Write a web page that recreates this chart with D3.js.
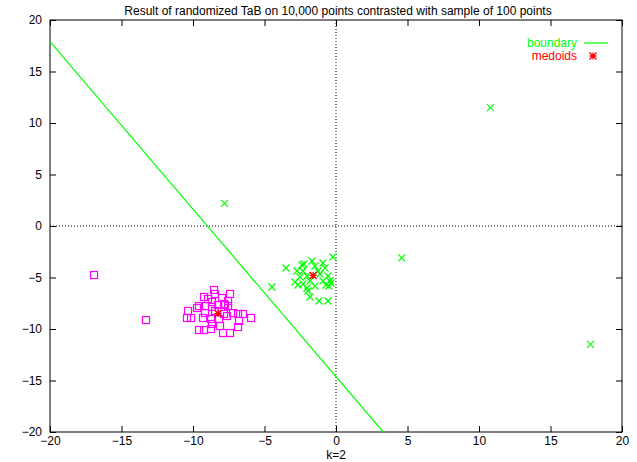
<!DOCTYPE html>
<html>
<head>
<meta charset="utf-8">
<script src="https://cdn.jsdelivr.net/npm/d3@7"></script>
<style>
  body { margin: 0; background: #fff; }
  svg text { font-family: "Liberation Sans", Arial, sans-serif; font-size: 12px; }
</style>
</head>
<body>
<svg></svg>
<script>
var xTicks = [-20, -15, -10, -5, 0, 5, 10, 15, 20];
var yTicks = [-20, -15, -10, -5, 0, 5, 10, 15, 20];

// cluster 1 (green crosses)
var clusterA = [
  [-3.50,-4.08],[-4.48,-5.92],[-2.73,-4.37],[-2.52,-4.95],[-2.38,-3.79],[-2.31,-5.63],
  [-2.87,-5.44],[-2.66,-5.73],[-2.24,-3.69],[-1.47,-3.88],[-0.91,-3.59],[-0.77,-4.08],
  [-1.26,-4.37],[-2.31,-4.37],[-2.03,-4.85],[-0.56,-4.85],[-0.42,-5.34],[-0.91,-5.34],
  [-1.82,-5.34],[-1.47,-5.83],[-2.03,-6.02],[-0.49,-5.83],[-1.12,-4.66],[-1.82,-6.89],
  [-1.19,-7.28],[-0.56,-7.28],[-0.21,-3.01],[-1.68,-3.40],[-1.96,-6.31],[-0.70,-5.73],
  [-0.35,-5.53],[-7.8,2.2],[10.8,11.5],[17.8,-11.5],[4.6,-3.1]
];

// cluster 2 (magenta squares)
var clusterB = [
  [-8.53,-6.21],[-8.46,-6.60],[-9.23,-6.89],[-8.95,-7.09],[-8.67,-7.38],[-7.97,-6.99],
  [-9.58,-7.77],[-9.16,-7.77],[-8.67,-7.86],[-8.25,-7.67],[-7.83,-7.57],[-10.35,-8.25],
  [-9.72,-7.96],[-9.16,-8.45],[-8.46,-8.25],[-7.83,-8.54],[-10.42,-8.93],[-10.14,-8.93],
  [-9.30,-8.93],[-8.74,-9.03],[-8.18,-9.03],[-8.67,-9.51],[-8.11,-9.71],[-9.58,-10.10],
  [-9.23,-10.10],[-8.74,-10.00],[-7.90,-10.39],[-7.41,-6.60],[-7.55,-7.28],[-7.76,-7.67],
  [-7.55,-7.77],[-7.62,-8.74],[-7.20,-8.45],[-6.85,-8.54],[-6.50,-8.54],[-5.94,-8.93],
  [-6.78,-9.22],[-6.85,-9.81],[-7.41,-10.39],[-16.92,-4.76],[-13.29,-9.13]
];

var medoids = [[-1.6,-4.8],[-8.25,-8.5]];
var boundary = [[-20,17.9],[3.3,-20]];

var screen = {width:637, height:462};
var margin = {left:50, right:15, top:20, bottom:30};

var svg = d3.select("svg")
  .attr("width", screen.width)
  .attr("height", screen.height);

var x = d3.scaleLinear().domain([-20,20]).range([margin.left, screen.width - margin.right]);
var y = d3.scaleLinear().domain([-20,20]).range([screen.height - margin.bottom, margin.top]);

svg.append("defs").append("clipPath").attr("id","clip")
  .append("rect")
  .attr("x", x(-20)).attr("y", y(20))
  .attr("width", x(20)-x(-20)).attr("height", y(-20)-y(20));

// zero axes
svg.append("line")
  .attr("x1", x(0)).attr("x2", x(0)).attr("y1", y(-20)).attr("y2", y(20))
  .attr("stroke","black").attr("stroke-width",1).attr("stroke-dasharray","1,2");
svg.append("line")
  .attr("x1", x(-20)).attr("x2", x(20)).attr("y1", y(0)).attr("y2", y(0))
  .attr("stroke","black").attr("stroke-width",1).attr("stroke-dasharray","1,2");

// axes, ticks inward on all sides
var tl = 6;
svg.append("g").attr("transform","translate(0,"+y(-20)+")")
  .call(d3.axisBottom(x).tickValues(xTicks).tickSize(-tl).tickPadding(4))
  .call(function(g){ g.select(".domain").remove(); });
svg.append("g").attr("transform","translate(0,"+y(20)+")")
  .call(d3.axisTop(x).tickValues(xTicks).tickSize(-tl).tickFormat(""))
  .call(function(g){ g.select(".domain").remove(); });
svg.append("g").attr("transform","translate("+x(-20)+",0)")
  .call(d3.axisLeft(y).tickValues(yTicks).tickSize(-tl).tickPadding(8))
  .call(function(g){ g.select(".domain").remove(); });
svg.append("g").attr("transform","translate("+x(20)+",0)")
  .call(d3.axisRight(y).tickValues(yTicks).tickSize(-tl).tickFormat(""))
  .call(function(g){ g.select(".domain").remove(); });
svg.selectAll(".tick text").attr("font-size", 12.5).attr("font-family", "Liberation Sans, Arial, sans-serif").attr("fill","black");

svg.append("rect")
  .attr("x", x(-20)).attr("y", y(20))
  .attr("width", x(20)-x(-20)).attr("height", y(-20)-y(20))
  .attr("fill","none").attr("stroke","black").attr("stroke-width",1);

var plot = svg.append("g").attr("clip-path","url(#clip)");

// boundary line
plot.append("path")
  .datum(boundary)
  .attr("d", d3.line().x(function(d){return x(d[0]);}).y(function(d){return y(d[1]);}))
  .attr("stroke","#00ff00").attr("stroke-width",1.2).attr("fill","none");

// green crosses
var s = 3.5;
plot.append("g").selectAll("path")
  .data(clusterA).enter().append("path")
  .attr("d", function(d){
    var cx = x(d[0]), cy = y(d[1]);
    return "M"+(cx-s)+","+(cy-s)+"L"+(cx+s)+","+(cy+s)+"M"+(cx-s)+","+(cy+s)+"L"+(cx+s)+","+(cy-s);
  })
  .attr("stroke","#00ff00").attr("stroke-width",1.2).attr("fill","none");

// magenta squares
plot.append("g").selectAll("rect")
  .data(clusterB).enter().append("rect")
  .attr("x", function(d){return x(d[0])-s;})
  .attr("y", function(d){return y(d[1])-s;})
  .attr("width", 2*s).attr("height", 2*s)
  .attr("stroke","#ff00ff").attr("stroke-width",1.2).attr("fill","none");

var star = function(cx, cy){
  return "M"+(cx-s)+","+(cy-s)+"L"+(cx+s)+","+(cy+s)+"M"+(cx-s)+","+(cy+s)+"L"+(cx+s)+","+(cy-s)
    +"M"+(cx-s)+","+cy+"L"+(cx+s)+","+cy+"M"+cx+","+(cy-s)+"L"+cx+","+(cy+s);
};

// medoids
plot.append("g").selectAll("path")
  .data(medoids).enter().append("path")
  .attr("d", function(d){ return star(x(d[0]), y(d[1])); })
  .attr("stroke","#ff0000").attr("stroke-width",1.3).attr("fill","none");

// title and label
svg.append("text")
  .attr("x", 338).attr("y", 15)
  .attr("text-anchor","middle")
  .attr("font-size", 12.8)
  .text("Result of randomized TaB on 10,000 points contrasted with sample of 100 points");
svg.append("text")
  .attr("x", x(0)).attr("y", 459)
  .attr("text-anchor","middle")
  .attr("font-size", 12.5)
  .text("k=2");

// legend
svg.append("text").attr("x",577).attr("y",47).attr("text-anchor","end")
  .attr("font-size", 12.5).attr("fill","#00ff00").text("boundary");
svg.append("line").attr("x1",584).attr("x2",608).attr("y1",43).attr("y2",43)
  .attr("stroke","#00ff00").attr("stroke-width",1.2);
svg.append("text").attr("x",577).attr("y",60).attr("text-anchor","end")
  .attr("font-size", 12.5).attr("fill","#ff0000").text("medoids");
svg.append("path").attr("d", star(593, 56))
  .attr("stroke","#ff0000").attr("stroke-width",1.3).attr("fill","none");
</script>
</body>
</html>
